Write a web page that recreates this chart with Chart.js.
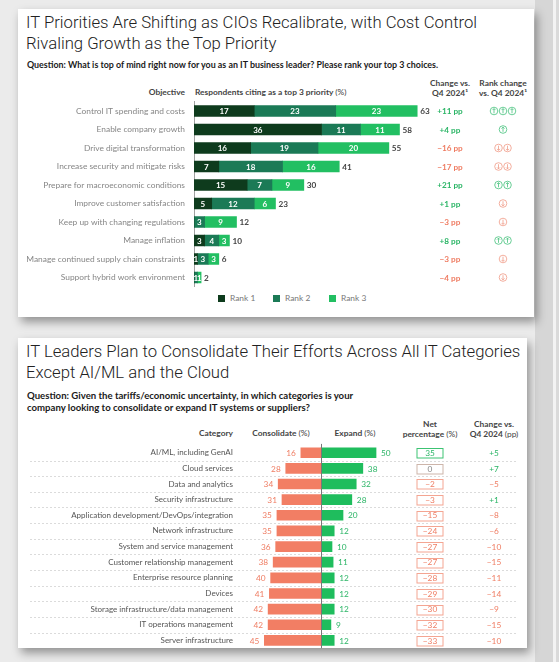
<!DOCTYPE html>
<html>
<head>
<meta charset="utf-8">
<script src="https://cdn.jsdelivr.net/npm/chart.js@4.4.1/dist/chart.umd.min.js"></script>
<style>
  body { margin: 0; width: 559px; height: 662px; position: relative; overflow: hidden;
         background: #ebebeb; font-family: Lato, "Open Sans", sans-serif; color: #333; }
  .card { position: absolute; background: #fff; box-shadow: 3px 5px 9px rgba(0,0,0,0.38); }
  .strip { position: absolute; top: 0; bottom: 0; }
  .t { position: absolute; white-space: nowrap; }
  .title { font-family: Roboto, Lato, sans-serif; font-weight: 300; font-size: 16.7px; line-height: 21px; color: #222; }
  .q { font-weight: 700; font-size: 8.9px; line-height: 12px; color: #1a1a1a; }
  .h { font-weight: 700; font-size: 8.4px; line-height: 10px; color: #444; }
  .c { transform: translateX(-50%); text-align: center; }
  .r { transform: translateX(-100%); text-align: right; }
  canvas { position: absolute; left: 0; }
  .leg { position: absolute; top: 293px; font-size: 8.4px; line-height: 10px; color: #777; }
  .leg i { display: inline-block; width: 7px; height: 7px; margin-right: 5px; vertical-align: -0.5px; }
</style>
</head>
<body>
<div class="strip" style="left:535px;width:18px;background:#d6d6d6"></div>
<div class="strip" style="left:553px;width:3px;background:#f3f3f3"></div>
<div class="strip" style="left:556px;width:3px;background:#dadada"></div>

<div class="card" style="left:18px;top:9px;width:516px;height:308px"></div>
<div class="card" style="left:18px;top:338px;width:509px;height:310px"></div>

<!-- top card texts -->
<div class="t title" style="left:26px;top:12px">IT Priorities Are Shifting as CIOs Recalibrate, with Cost Control<br>Rivaling Growth as the Top Priority</div>
<div class="t q" style="left:27px;top:59px">Question: What is top of mind right now for you as an IT business leader? Please rank your top 3 choices.</div>
<div class="t h r" style="left:185px;top:87px">Objective</div>
<div class="t h" style="left:195px;top:87px">Respondents citing as a top 3 priority <span style="font-weight:400">(%)</span></div>
<div class="t h c" style="left:450px;top:78px">Change vs.<br>Q4 2024¹</div>
<div class="t h c" style="left:503px;top:78px">Rank change<br>vs. Q4 2024¹</div>
<div id="legend1"></div>
<canvas id="c1" width="559" height="200" style="top:96px"></canvas>

<!-- bottom card texts -->
<div class="t title" style="left:26px;top:341px">IT Leaders Plan to Consolidate Their Efforts Across All IT Categories<br>Except AI/ML and the Cloud</div>
<div class="t q" style="left:27px;top:390px;font-size:9.6px;line-height:11.7px">Question: Given the tariffs/economic uncertainty, in which categories is your<br>company looking to consolidate or expand IT systems or suppliers?</div>
<div class="t h r" style="left:233px;top:428px">Category</div>
<div class="t h c" style="left:281px;top:428px">Consolidate <span style="font-weight:400">(%)</span></div>
<div class="t h c" style="left:355px;top:428px">Expand <span style="font-weight:400">(%)</span></div>
<div class="t h c" style="left:430px;top:419px">Net<br>percentage <span style="font-weight:400">(%)</span></div>
<div class="t h c" style="left:494px;top:419px">Change vs.<br>Q4 2024 <span style="font-weight:400">(pp)</span></div>
<canvas id="c2" width="559" height="216" style="top:436px"></canvas>

<script>
// ---- chart 1 data ----
const objectives = ['Control IT spending and costs', 'Enable company growth', 'Drive digital transformation',
  'Increase security and mitigate risks', 'Prepare for macroeconomic conditions', 'Improve customer satisfaction',
  'Keep up with changing regulations', 'Manage inflation', 'Manage continued supply chain constraints',
  'Support hybrid work environment'];
const rank1 = [17, 36, 16, 7, 15, 5, 0, 3, 1, 0];
const rank2 = [23, 11, 19, 18, 7, 12, 3, 4, 3, 1];
const rank3 = [23, 11, 20, 16, 9, 6, 9, 3, 3, 1];
const totals = [63, 58, 55, 41, 30, 23, 12, 10, 6, 2];
const changePP = [11, 4, -16, -17, 21, 1, -3, 8, -3, -4];
const rankMoves = [3, 1, -2, -2, 2, -1, -1, 2, -1, -1];   // + up arrows, - down arrows
const rankNames = ['Rank 1', 'Rank 2', 'Rank 3'];
const rankColors = ['#0e3b1d', '#1b7a56', '#22bf62'];

// ---- chart 2 data ----
const categories = ['AI/ML, including GenAI', 'Cloud services', 'Data and analytics', 'Security infrastructure',
  'Application development/DevOps/integration', 'Network infrastructure', 'System and service management',
  'Customer relationship management', 'Enterprise resource planning', 'Devices',
  'Storage infrastructure/data management', 'IT operations management', 'Server infrastructure'];
const consolidate = [16, 28, 34, 31, 35, 35, 36, 38, 40, 41, 42, 42, 45];
const expand = [50, 38, 32, 28, 20, 12, 10, 11, 12, 12, 12, 9, 12];
const netPct = [35, 0, -2, -3, -15, -24, -27, -27, -28, -29, -30, -32, -33];
const changeQ4 = [5, 7, -5, 1, -8, -6, -10, -15, -11, -14, -9, -15, -10];

const GREEN_TXT = '#2bb566';
const RED_TXT = '#ef7d63';
const fmtSigned = v => (v > 0 ? '+' : v < 0 ? '\u2212' : '') + Math.abs(v);

Chart.defaults.font.family = 'Lato, "Open Sans", sans-serif';

// html legend for chart 1
document.getElementById('legend1').innerHTML = rankNames.map((n, i) =>
  '<div class="leg" style="left:' + [218, 273, 329][i] + 'px"><i style="background:' + rankColors[i] + '"></i>' + n + '</div>'
).join('');

function arrowCircle(ctx, cx, cy, up, color) {
  const r = 3.8;
  ctx.save();
  ctx.strokeStyle = color;
  ctx.lineWidth = 0.8;
  ctx.beginPath();
  ctx.arc(cx, cy, r, 0, Math.PI * 2);
  ctx.stroke();
  const d = up ? -1 : 1;
  ctx.beginPath();
  ctx.moveTo(cx, cy - d * 2.3);
  ctx.lineTo(cx, cy + d * 2.3);
  ctx.moveTo(cx - 1.5, cy + d * 0.9);
  ctx.lineTo(cx, cy + d * 2.4);
  ctx.lineTo(cx + 1.5, cy + d * 0.9);
  ctx.stroke();
  ctx.restore();
}

// the y axis would otherwise reserve room above/below for its labels
function fixAxisWidth(w) {
  return function (s) {
    s.width = w;
    s.paddingTop = 0;
    s.paddingBottom = 0;
  };
}

// labels inside / after the stacked bars + right columns
const priorityText = {
  id: 'priorityText',
  afterDatasetsDraw(chart) {
    const { ctx, scales: { x, y } } = chart;
    ctx.save();
    ctx.textBaseline = 'middle';
    ctx.textAlign = 'center';
    ctx.font = 'bold 8px Lato';
    ctx.fillStyle = '#fff';
    chart.data.datasets.forEach((ds, di) => {
      chart.getDatasetMeta(di).data.forEach((bar, i) => {
        if (!ds.data[i]) return;
        ctx.fillText(ds.data[i], (bar.x + bar.base) / 2, bar.y + 0.5);
      });
    });
    objectives.forEach((o, i) => {
      const yy = y.getPixelForValue(i) + 0.5;
      const end = x.getPixelForValue(rank1[i] + rank2[i] + rank3[i]);
      ctx.textAlign = 'left';
      ctx.fillStyle = '#444';
      ctx.font = 'bold 8.2px Lato';
      ctx.fillText(totals[i], end + 3, yy);
      ctx.textAlign = 'center';
      ctx.fillStyle = changePP[i] >= 0 ? GREEN_TXT : RED_TXT;
      ctx.fillText(fmtSigned(changePP[i]) + ' pp', 450, yy);
      const n = Math.abs(rankMoves[i]);
      const col = rankMoves[i] > 0 ? '#45c27c' : '#f09a86';
      for (let j = 0; j < n; j++) {
        arrowCircle(ctx, 503 + (j - (n - 1) / 2) * 9, yy - 0.5, rankMoves[i] > 0, col);
      }
    });
    ctx.restore();
  }
};

new Chart(document.getElementById('c1'), {
  type: 'bar',
  data: {
    labels: objectives,
    datasets: [rank1, rank2, rank3].map((d, i) => ({
      label: rankNames[i], data: d, backgroundColor: rankColors[i], barThickness: 11, borderWidth: 0
    }))
  },
  options: {
    indexAxis: 'y',
    responsive: false,
    animation: false,
    layout: { padding: { top: 5.75, bottom: 9.25, left: 0, right: 117 } },
    plugins: { legend: { display: false }, tooltip: { enabled: false } },
    scales: {
      x: { stacked: true, min: 0, max: 70, display: false },
      y: {
        stacked: true,
        grid: { display: false, drawTicks: false },
        border: { color: '#a0a0a0', width: 1 },
        ticks: { padding: 9, color: '#868686', font: { size: 8.4 } },
        afterFit: fixAxisWidth(194)
      }
    }
  },
  plugins: [priorityText]
});

// ---- chart 2 ----
const spendText = {
  id: 'spendText',
  beforeDatasetsDraw(chart) {
    const { ctx, scales: { y } } = chart;
    ctx.save();
    ctx.strokeStyle = '#d2d2d2';
    ctx.lineWidth = 0.8;
    ctx.setLineDash([2, 2]);
    for (let i = 0; i < categories.length - 1; i++) {
      const yy = Math.round((y.getPixelForValue(i) + y.getPixelForValue(i + 1)) / 2) + 0.5;
      ctx.beginPath();
      ctx.moveTo(30, yy);
      ctx.lineTo(518, yy);
      ctx.stroke();
    }
    ctx.restore();
  },
  afterDatasetsDraw(chart) {
    const { ctx, chartArea, scales: { xl, xr, y } } = chart;
    ctx.save();
    const x0 = Math.round(xr.getPixelForValue(0)) + 0.5;
    ctx.strokeStyle = '#777';
    ctx.lineWidth = 1;
    ctx.beginPath();
    ctx.moveTo(x0, chartArea.top - 1);
    ctx.lineTo(x0, chartArea.bottom);
    ctx.stroke();
    ctx.textBaseline = 'middle';
    ctx.font = '8.3px Lato';
    categories.forEach((c, i) => {
      const yy = y.getPixelForValue(i) + 0.5;
      ctx.textAlign = 'right';
      ctx.fillStyle = RED_TXT;
      ctx.fillText(consolidate[i], xl.getPixelForValue(-consolidate[i]) - 5, yy);
      ctx.textAlign = 'left';
      ctx.fillStyle = GREEN_TXT;
      ctx.fillText(expand[i], xr.getPixelForValue(expand[i]) + 5, yy);
      // net box
      const nc = netPct[i] > 0 ? '#3cc373' : netPct[i] < 0 ? '#f4a592' : '#cdb5aa';
      const tc = netPct[i] > 0 ? GREEN_TXT : netPct[i] < 0 ? RED_TXT : '#888';
      ctx.strokeStyle = nc;
      ctx.lineWidth = 1;
      ctx.strokeRect(417, Math.round(yy - 5) + 0.5, 26, 9.5);
      ctx.textAlign = 'center';
      ctx.fillStyle = tc;
      ctx.fillText(netPct[i] < 0 ? '\u2212' + Math.abs(netPct[i]) : netPct[i], 430, yy);
      ctx.fillStyle = changeQ4[i] >= 0 ? GREEN_TXT : RED_TXT;
      ctx.fillText(fmtSigned(changeQ4[i]), 494, yy);
    });
    ctx.restore();
  }
};

new Chart(document.getElementById('c2'), {
  type: 'bar',
  data: {
    labels: categories,
    datasets: [
      { label: 'Consolidate (%)', data: consolidate.map(v => -v), xAxisID: 'xl', grouped: false,
        backgroundColor: '#f27e64', barThickness: 10, borderWidth: 0 },
      { label: 'Expand (%)', data: expand, xAxisID: 'xr', grouped: false,
        backgroundColor: '#1fbd5d', barThickness: 10, borderWidth: 0 }
    ]
  },
  options: {
    indexAxis: 'y',
    responsive: false,
    animation: false,
    layout: { padding: { top: 8.9, bottom: 3.8, left: 0, right: 168 } },
    plugins: { legend: { display: false }, tooltip: { enabled: false } },
    scales: {
      xl: { type: 'linear', position: 'bottom', min: -55.6, max: 55.6, display: false },
      xr: { type: 'linear', position: 'bottom', min: -63.6, max: 63.6, display: false },
      y: {
        grid: { display: false, drawTicks: false },
        border: { display: false },
        ticks: { padding: 18, color: '#555', font: { size: 8 } },
        afterFit: fixAxisWidth(251)
      }
    }
  },
  plugins: [spendText]
});
</script>
</body>
</html>
